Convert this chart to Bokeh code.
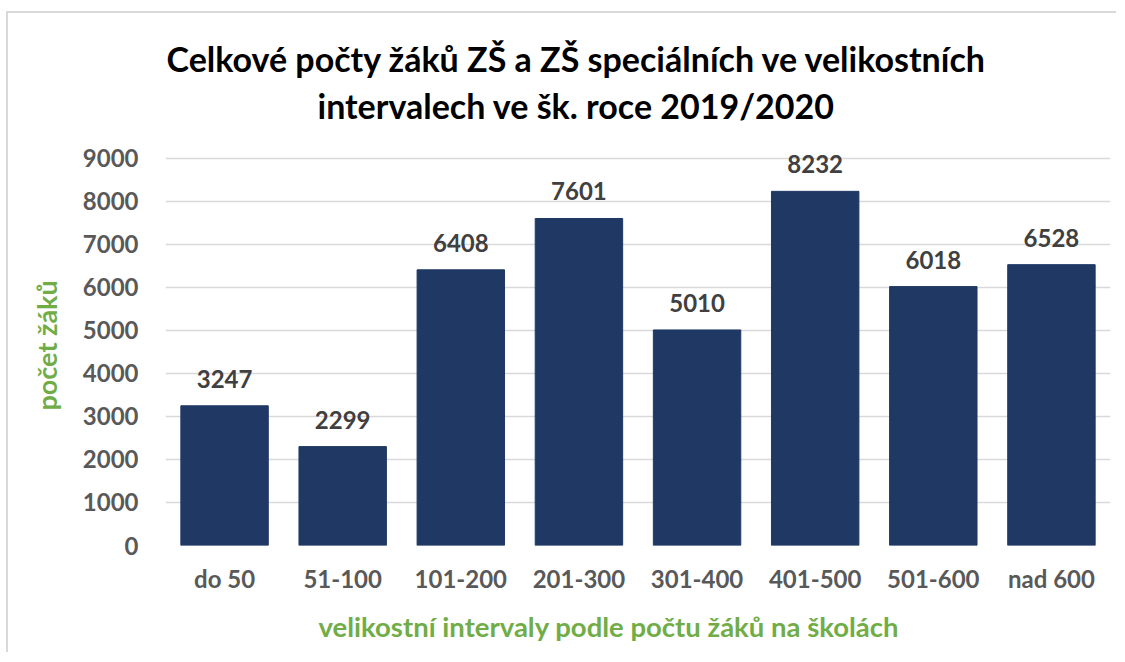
from bokeh.plotting import figure
from bokeh.models import Range1d, FixedTicker, Title, ColumnDataSource, LabelSet
from bokeh.core.properties import value
from bokeh.embed import file_html
from bokeh.resources import INLINE

categories = ["do 50", "51-100", "101-200", "201-300", "301-400", "401-500", "501-600", "nad 600"]
values = [3247, 2299, 6408, 7601, 5010, 8232, 6018, 6528]
y_ticks = [0, 1000, 2000, 3000, 4000, 5000, 6000, 7000, 8000, 9000]
title_lines = ["Celkové počty žáků ZŠ a ZŠ speciálních ve velikostních",
               "intervalech ve šk. roce 2019/2020"]
x_label = "velikostní intervaly podle počtu žáků na školách"
y_label = "počet žáků"

FONT = "Lato"
GREEN = "#70ad47"
GRAY = "#595959"

src = ColumnDataSource(dict(cat=categories, val=values, lab=[str(v) for v in values]))

p = figure(x_range=categories, y_range=Range1d(0, 9600), width=1110, height=641,
           output_backend="svg", toolbar_location=None,
           min_border_left=157, min_border_right=8, min_border_top=119, min_border_bottom=109)
p.styles = {"margin-left": "6px", "margin-top": "11px",
            "border-left": "2px solid #d9d9d9", "border-top": "2px solid #d9d9d9"}

p.vbar(x="cat", top="val", width=0.74, source=src, color="#1f3864")

labels = LabelSet(x="cat", y="val", text="lab", source=src, text_align="center",
                  text_baseline="alphabetic", y_offset=18, text_font=value(FONT),
                  text_font_size="24px", text_font_style="bold", text_color="#404040")
p.add_layout(labels)

p.add_layout(Title(text=title_lines[1], align="left", text_font=FONT, text_font_size="34px",
                   text_font_style="bold", text_color="black", offset=152, standoff=14), "above")
p.add_layout(Title(text=title_lines[0], align="left", text_font=FONT, text_font_size="34px",
                   text_font_style="bold", text_color="black", offset=1, standoff=-6), "above")

p.add_layout(Title(text=x_label, align="left", text_font=FONT, text_font_size="27.5px",
                   text_font_style="bold", text_color=GREEN, offset=153, standoff=24), "below")
p.add_layout(Title(text=y_label, align="left", text_font=FONT, text_font_size="27px",
                   text_font_style="bold", text_color=GREEN, offset=135, standoff=34), "left")

p.outline_line_color = None
p.xgrid.grid_line_color = None
p.ygrid.grid_line_color = "#d9d9d9"
p.ygrid.grid_line_width = 1.5
p.yaxis.ticker = FixedTicker(ticks=y_ticks)

for ax in (p.xaxis, p.yaxis):
    ax.axis_line_color = None
    ax.major_tick_line_color = None
    ax.minor_tick_line_color = None
    ax.major_tick_out = 0
    ax.major_tick_in = 0
    ax.minor_tick_out = 0
    ax.major_label_text_font = FONT
    ax.major_label_text_font_size = "24px"
    ax.major_label_text_font_style = "bold"
    ax.major_label_text_color = GRAY

p.xaxis.major_label_standoff = 18
p.yaxis.major_label_standoff = 27

open("out.html", "w").write(file_html(p, INLINE))
